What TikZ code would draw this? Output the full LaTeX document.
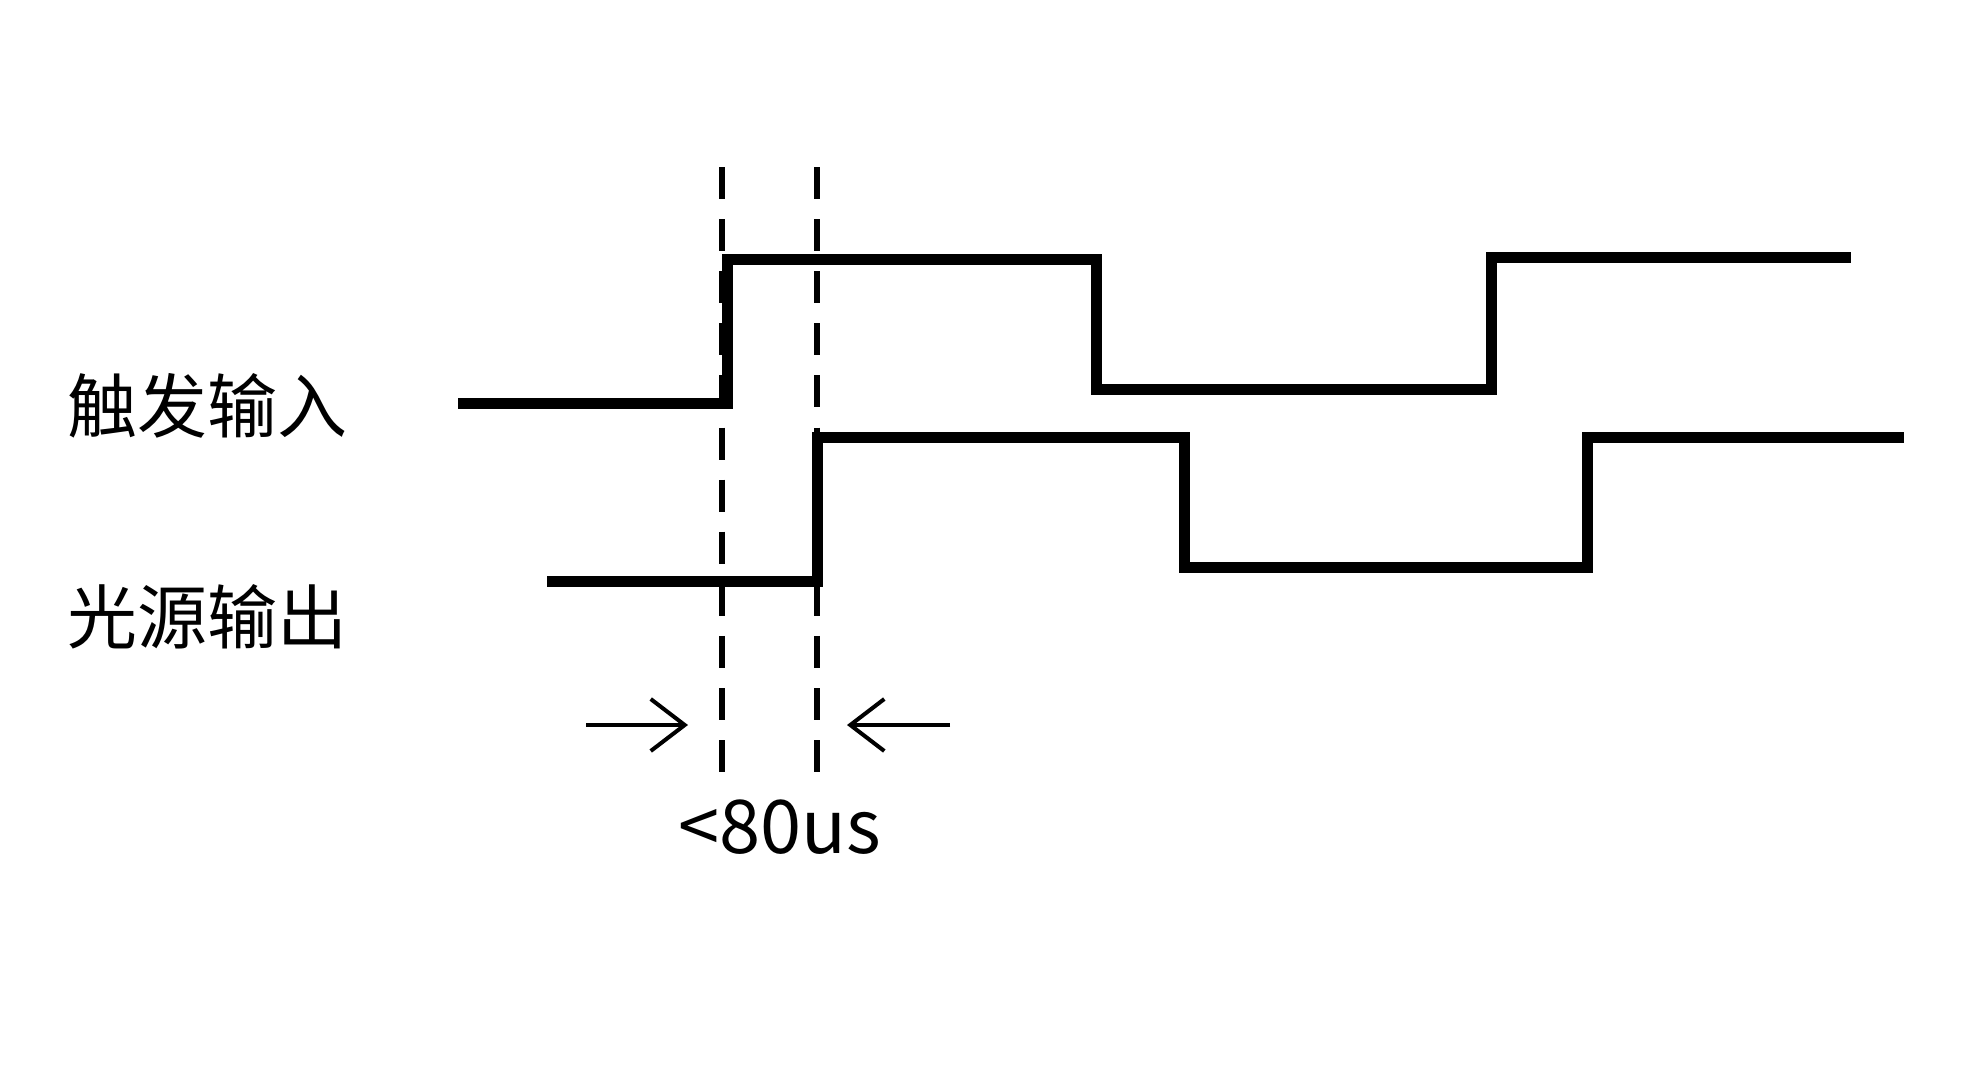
\documentclass[tikz,border=0pt]{standalone}
\usepackage{fontspec}
\setmainfont{Noto Sans CJK SC}
\usetikzlibrary{arrows.meta}
\tikzset{
  wave/.style={line width=11pt, line join=miter, line cap=butt},
  guide/.style={line width=6pt, dash pattern=on 32pt off 20.1pt},
  meas/.style={line width=4pt, -{Straight Barb[length=34pt,width=52pt]}},
  lbl/.style={inner sep=0pt, font=\fontsize{70pt}{80pt}\selectfont},
  val/.style={inner sep=0pt, anchor=base, font=\fontsize{74pt}{84pt}\selectfont}
}
\begin{document}
\begin{tikzpicture}[x=1pt,y=-1pt]
\useasboundingbox[fill=white] (0,0) rectangle (1980,1080);
% labels
\node[lbl] (trig) at (207,406) {触发输入};
\node[lbl] (light) at (207,617) {光源输出};
% guide lines
\coordinate (g1top) at (722,167);
\coordinate (g1bot) at (722,772);
\coordinate (g2top) at (817,167);
\coordinate (g2bot) at (817,772);
\draw[guide] (g1top) -- (g1bot);
\draw[guide] (g2top) -- (g2bot);
% waveforms
\draw[wave] (458,403) -- (727,403) -- (727,259) -- (1096,259) -- (1096,389)
  -- (1491,389) -- (1491,257) -- (1851,257);
\draw[wave] (547,581) -- (817,581) -- (817,437) -- (1184,437) -- (1184,567)
  -- (1587,567) -- (1587,437) -- (1904,437);
% measurement arrows
\coordinate (a1s) at (586,725);
\coordinate (a1e) at (688,725);
\coordinate (a2s) at (950,725);
\coordinate (a2e) at (847,725);
\draw[meas] (a1s) -- (a1e);
\draw[meas] (a2s) -- (a2e);
\node[val] (dt) at (780,853) {<80us};
\end{tikzpicture}
\end{document}
